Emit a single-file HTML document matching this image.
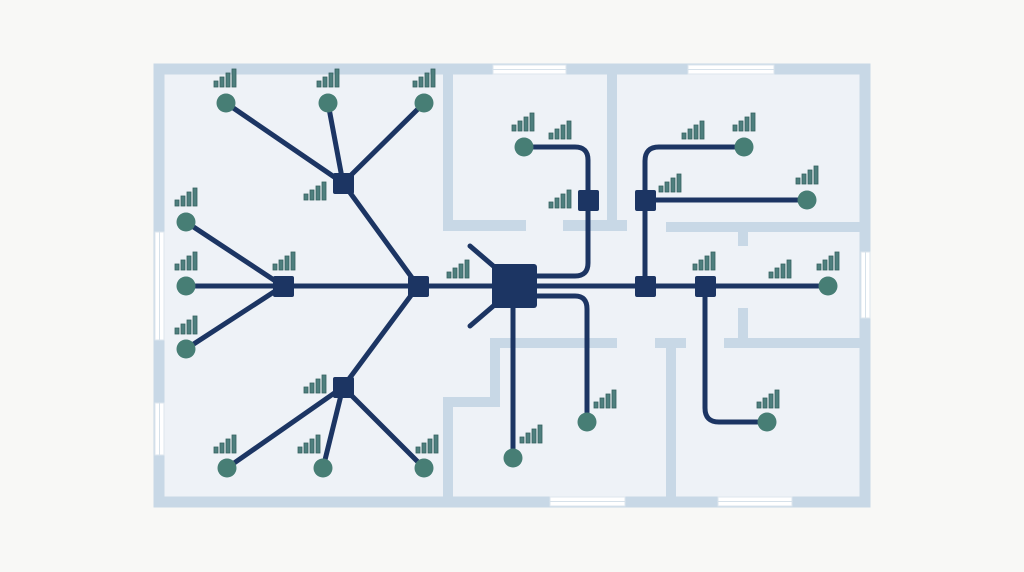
<!DOCTYPE html>
<html><head><meta charset="utf-8"><style>html,body{margin:0;padding:0;background:#f8f8f6}svg{display:block}</style></head>
<body>
<svg width="1024" height="572" viewBox="0 0 1024 572" xmlns="http://www.w3.org/2000/svg">
<defs>
<g id="sig"><rect x="0" y="12" width="4" height="6" fill="#4e7f7e" stroke="#35625f" stroke-width="0.8"/><rect x="6" y="8" width="4" height="10" fill="#4e7f7e" stroke="#35625f" stroke-width="0.8"/><rect x="12" y="4" width="4" height="14" fill="#4e7f7e" stroke="#35625f" stroke-width="0.8"/><rect x="18" y="0" width="4" height="18" fill="#4e7f7e" stroke="#35625f" stroke-width="0.8"/></g>
</defs>
<rect width="1024" height="572" fill="#f8f8f6"/>
<!-- floor -->
<rect x="159" y="69" width="706" height="433" fill="#eef2f7" stroke="#c8d8e6" stroke-width="11"/>
<g fill="#c8d8e6">
<rect x="443" y="64" width="10" height="162"/>
<rect x="443" y="220" width="83" height="11"/>
<rect x="563" y="220" width="64" height="11"/>
<rect x="607" y="64" width="10" height="162"/>
<rect x="666" y="222" width="200" height="10"/>
<rect x="738" y="232" width="10" height="14"/>
<rect x="490" y="338" width="127" height="10"/>
<rect x="490" y="338" width="10" height="66"/>
<rect x="443" y="397" width="57" height="10"/>
<rect x="443" y="397" width="10" height="110"/>
<rect x="655" y="338" width="31" height="10"/>
<rect x="666" y="338" width="10" height="169"/>
<rect x="724" y="338" width="146" height="10"/>
<rect x="738" y="308" width="10" height="32"/>
</g>
<!-- windows -->
<g fill="#ffffff" stroke="#dde6ee" stroke-width="1">
<rect x="493" y="65" width="73" height="9"/><rect x="688" y="65" width="86" height="9"/>
<rect x="550" y="497" width="75" height="9"/><rect x="718" y="497" width="74" height="9"/>
<rect x="155" y="232" width="9" height="108"/><rect x="155" y="403" width="9" height="52"/>
<rect x="861" y="252" width="9" height="66"/>
</g>
<g stroke="#d6e1ea" stroke-width="1"><line x1="493" y1="69.5" x2="566" y2="69.5"/><line x1="688" y1="69.5" x2="774" y2="69.5"/><line x1="550" y1="501.5" x2="625" y2="501.5"/><line x1="718" y1="501.5" x2="792" y2="501.5"/><line x1="159.5" y1="232" x2="159.5" y2="340"/><line x1="159.5" y1="403" x2="159.5" y2="455"/><line x1="865.5" y1="252" x2="865.5" y2="318"/></g>
<!-- links -->
<g stroke="#1c3563" stroke-width="5" fill="none" stroke-linecap="round" stroke-linejoin="round">
<line x1="186" y1="286" x2="828" y2="286"/>
<line x1="418" y1="286" x2="343" y2="183"/>
<line x1="418" y1="286" x2="343" y2="387"/>
<line x1="343" y1="183" x2="226" y2="103"/>
<line x1="343" y1="183" x2="328" y2="103"/>
<line x1="343" y1="183" x2="424" y2="103"/>
<line x1="283" y1="286" x2="186" y2="222"/>
<line x1="283" y1="286" x2="186" y2="349"/>
<line x1="343" y1="387" x2="227" y2="468"/>
<line x1="343" y1="387" x2="323" y2="468"/>
<line x1="343" y1="387" x2="424" y2="468"/>
<path d="M530 276 H575 Q588 276 588 263 V160 Q588 147 575 147 H524"/>
<path d="M530 296 H575 Q587 296 587 309 V422"/>
<line x1="513" y1="300" x2="513" y2="458"/>
<line x1="498" y1="270" x2="470" y2="246"/>
<line x1="498" y1="302" x2="470" y2="326"/>
<path d="M645 286 V161 Q645 147 659 147 H744"/>
<line x1="645" y1="200" x2="807" y2="200"/>
<path d="M705 286 V408 Q705 422 719 422 H767"/>
</g>
<!-- switches -->
<g fill="#1c3563">
<rect x="273" y="276" width="21" height="21" rx="2"/>
<rect x="408" y="276" width="21" height="21" rx="2"/>
<rect x="333" y="173" width="21" height="21" rx="2"/>
<rect x="333" y="377" width="21" height="21" rx="2"/>
<rect x="492" y="264" width="45" height="44" rx="3"/>
<rect x="578" y="190" width="21" height="21" rx="2"/>
<rect x="635" y="190" width="21" height="21" rx="2"/>
<rect x="635" y="276" width="21" height="21" rx="2"/>
<rect x="695" y="276" width="21" height="21" rx="2"/>
</g>
<!-- endpoints -->
<g fill="#477e75">
<circle cx="226" cy="103" r="9.5"/><circle cx="328" cy="103" r="9.5"/><circle cx="424" cy="103" r="9.5"/>
<circle cx="186" cy="222" r="9.5"/><circle cx="186" cy="286" r="9.5"/><circle cx="186" cy="349" r="9.5"/>
<circle cx="227" cy="468" r="9.5"/><circle cx="323" cy="468" r="9.5"/><circle cx="424" cy="468" r="9.5"/>
<circle cx="524" cy="147" r="9.5"/><circle cx="744" cy="147" r="9.5"/><circle cx="807" cy="200" r="9.5"/>
<circle cx="828" cy="286" r="9.5"/><circle cx="513" cy="458" r="9.5"/><circle cx="587" cy="422" r="9.5"/><circle cx="767" cy="422" r="9.5"/>
</g>
<!-- signal icons -->
<use href="#sig" x="214" y="69"/><use href="#sig" x="317" y="69"/><use href="#sig" x="413" y="69"/>
<use href="#sig" x="304" y="182"/><use href="#sig" x="175" y="188"/><use href="#sig" x="175" y="252"/>
<use href="#sig" x="175" y="316"/><use href="#sig" x="273" y="252"/><use href="#sig" x="447" y="260"/>
<use href="#sig" x="304" y="375"/><use href="#sig" x="214" y="435"/><use href="#sig" x="298" y="435"/>
<use href="#sig" x="416" y="435"/><use href="#sig" x="512" y="113"/><use href="#sig" x="549" y="121"/>
<use href="#sig" x="549" y="190"/><use href="#sig" x="659" y="174"/><use href="#sig" x="682" y="121"/>
<use href="#sig" x="733" y="113"/><use href="#sig" x="796" y="166"/><use href="#sig" x="693" y="252"/>
<use href="#sig" x="769" y="260"/><use href="#sig" x="817" y="252"/><use href="#sig" x="520" y="425"/>
<use href="#sig" x="594" y="390"/><use href="#sig" x="757" y="390"/>
</svg>
</body></html>
